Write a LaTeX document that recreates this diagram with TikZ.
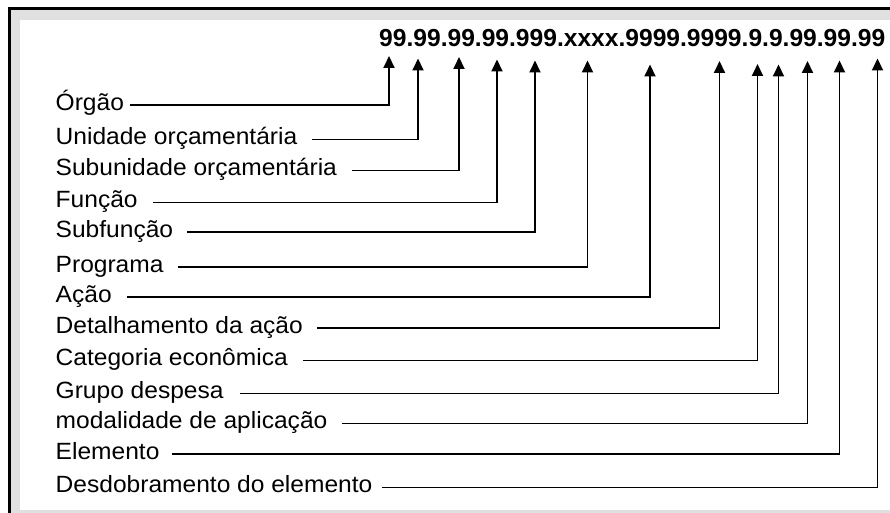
\documentclass[tikz,border=0pt]{standalone}
\usepackage{fontspec}
\setmainfont{Liberation Sans}
\newfontfamily\lblfont[FakeStretch=1.045]{Liberation Sans}
\usetikzlibrary{arrows.meta}
\definecolor{bandgray}{RGB}{224,224,224}
\begin{document}
\begin{tikzpicture}[x=1pt,y=-1pt,
  lbl/.style={anchor=base west,inner sep=0pt,font=\lblfont\fontsize{23.5}{28}\selectfont},
  codetxt/.style={anchor=base west,inner sep=0pt,font=\fontsize{24.6}{29}\selectfont\bfseries},
  conn/.style={line width=1.9pt,-{Triangle[length=12pt,width=11pt]}}]
\useasboundingbox (0,0) rectangle (890,513);
\fill[black] (7.5,7.5) rectangle (890,513);
\fill[bandgray] (10.5,10.5) rectangle (890,513);
\fill[white] (20,20) rectangle (890,510);
\node[codetxt] (code) at (379,46.5) {99.99.99.99.999.xxxx.9999.9999.9.9.99.99.99};
% tips
\coordinate (t1) at (389,56);
\coordinate (t2) at (418,58.5);
\coordinate (t3) at (459,57);
\coordinate (t4) at (497,59.5);
\coordinate (t5) at (535,60.5);
\coordinate (t6) at (587.5,60.5);
\coordinate (t7) at (650,64.5);
\coordinate (t8) at (719.5,61);
\coordinate (t9) at (757.5,64);
\coordinate (t10) at (778.5,64.5);
\coordinate (t11) at (807.5,61);
\coordinate (t12) at (839.5,60.5);
\coordinate (t13) at (877.5,58.5);
% labels (baseline 5pt below the connector)
\node[lbl] (l1) at (55.5,110.5) {Órgão};
\node[lbl] (l2) at (55.5,144.5) {Unidade orçamentária};
\node[lbl] (l3) at (55.5,175.5) {Subunidade orçamentária};
\node[lbl] (l4) at (55.5,207.5) {Função};
\node[lbl] (l5) at (55.5,237) {Subfunção};
\node[lbl] (l6) at (55.5,272.3) {Programa};
\node[lbl] (l7) at (55.5,302) {Ação};
\node[lbl] (l8) at (55.5,333) {Detalhamento da ação};
\node[lbl] (l9) at (55.5,365.5) {Categoria econômica};
\node[lbl] (l10) at (55.5,398.5) {Grupo despesa};
\node[lbl] (l11) at (55.5,428.5) {modalidade de aplicação};
\node[lbl] (l12) at (55.5,459) {Elemento};
\node[lbl] (l13) at (55.5,492.5) {Desdobramento do elemento};
% connectors
\draw[conn] (l1.base east) ++(6.1,-5.5) -| (t1);
\draw[conn] (l2.base east) ++(14.5,-5) -| (t2);
\draw[conn] (l3.base east) ++(14.8,-5) -| (t3);
\draw[conn] (l4.base east) ++(15.5,-5) -| (t4);
\draw[conn] (l5.base east) ++(13.9,-5) -| (t5);
\draw[conn] (l6.base east) ++(14.5,-5) -| (t6);
\draw[conn] (l7.base east) ++(15.5,-5) -| (t7);
\draw[conn] (l8.base east) ++(14,-5) -| (t8);
\draw[conn] (l9.base east) ++(15.1,-5) -| (t9);
\draw[conn] (l10.base east) ++(16.3,-5) -| (t10);
\draw[conn] (l11.base east) ++(14.5,-5) -| (t11);
\draw[conn] (l12.base east) ++(12.5,-5) -| (t12);
\draw[conn] (l13.base east) ++(9.5,-5) -| (t13);
\end{tikzpicture}
\end{document}
